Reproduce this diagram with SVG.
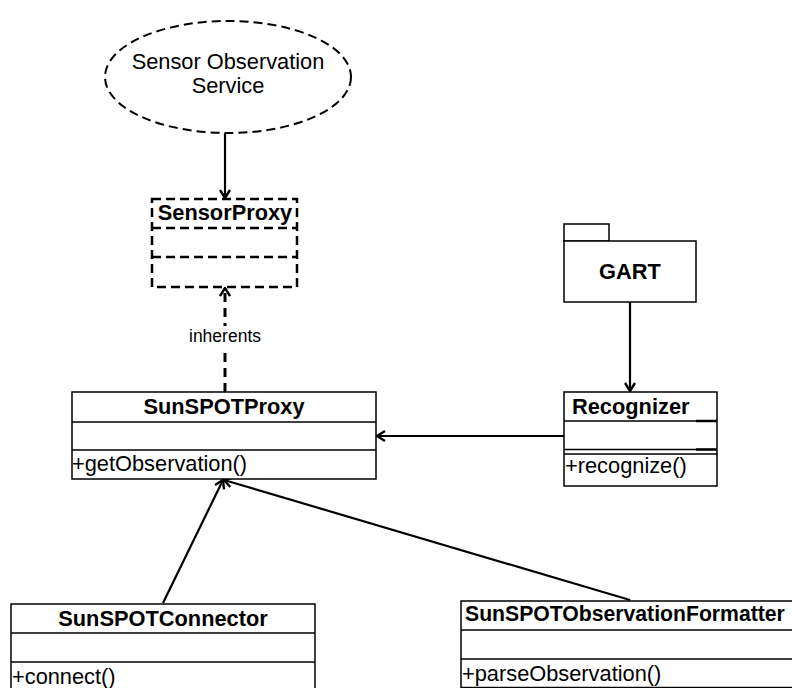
<svg xmlns="http://www.w3.org/2000/svg" width="792" height="688" viewBox="0 0 792 688">
<style>
.box{fill:#fff;stroke:#000;stroke-width:1.5}
.dbox{fill:#fff;stroke:#000;stroke-width:2.5;stroke-dasharray:9 5}
.ln{stroke:#000;stroke-width:1.5}
.dln{stroke:#000;stroke-width:2.5;stroke-dasharray:9 5}
.t{font-family:"Liberation Sans",Arial,sans-serif;font-size:21.8px;fill:#000}
.b{font-weight:bold}
.s{font-size:17.5px}
.c{stroke:#000;stroke-width:2.2;fill:none}
</style>
<defs>
<marker id="ah" viewBox="0 0 10 12" refX="9" refY="6" markerWidth="10" markerHeight="12" markerUnits="userSpaceOnUse" orient="auto">
<path d="M1,1 L9,6 L1,11" fill="none" stroke="#000" stroke-width="2.4"/>
</marker>
</defs>
<g id="connectors">
<line class="c" x1="225" y1="133" x2="225" y2="198" marker-end="url(#ah)"/>
<line class="c" x1="225" y1="392" x2="225" y2="288" style="stroke-width:3;stroke-dasharray:9 6" marker-end="url(#ah)"/>
<rect x="186" y="326" width="78" height="22" fill="#fff"/>
<text class="t s" x="225" y="342" text-anchor="middle">inherents</text>
<line class="c" x1="630" y1="302" x2="630" y2="391" marker-end="url(#ah)"/>
<line class="c" x1="564" y1="436" x2="377" y2="436" marker-end="url(#ah)"/>
<line class="c" x1="163" y1="603" x2="223" y2="480" marker-end="url(#ah)"/>
<line class="c" x1="630" y1="600" x2="224" y2="480" marker-end="url(#ah)"/>
</g>
<g id="sos">
<ellipse cx="228" cy="77" rx="123" ry="56" class="dbox" style="stroke-width:2"/>
<text class="t" x="228" y="69" text-anchor="middle">Sensor Observation</text>
<text class="t" x="228" y="93" text-anchor="middle">Service</text>
</g>
<g id="sensorproxy">
<rect class="dbox" x="152" y="199" width="145" height="88"/>
<line class="dln" x1="152" y1="228" x2="297" y2="228"/>
<line class="dln" x1="152" y1="257" x2="297" y2="257"/>
<text class="t b" x="225" y="220" text-anchor="middle">SensorProxy</text>
</g>
<g id="gart">
<rect class="box" x="564" y="224" width="45" height="17"/>
<rect class="box" x="564" y="241" width="132" height="61"/>
<text class="t b" x="630" y="279" text-anchor="middle">GART</text>
</g>
<g id="sunspotproxy">
<rect class="box" x="72" y="392" width="304" height="87"/>
<line class="ln" x1="72" y1="422" x2="376" y2="422"/>
<line class="ln" x1="72" y1="450" x2="376" y2="450"/>
<text class="t b" x="224" y="414" text-anchor="middle">SunSPOTProxy</text>
<text class="t" x="72" y="471">+getObservation()</text>
</g>
<g id="recognizer">
<rect class="box" x="564" y="392" width="153" height="94"/>
<line class="ln" x1="564" y1="421" x2="717" y2="421"/>
<line class="ln" x1="564" y1="449.5" x2="717" y2="449.5"/>
<line class="ln" x1="564" y1="454" x2="717" y2="454"/>
<line x1="696" y1="421" x2="717" y2="421" stroke="#000" stroke-width="2.5"/>
<line x1="696" y1="449.5" x2="717" y2="449.5" stroke="#000" stroke-width="2.5"/>
<text class="t b" x="572" y="414">Recognizer</text>
<text class="t" x="565" y="473">+recognize()</text>
</g>
<g id="connector">
<rect class="box" x="11" y="604" width="304" height="100"/>
<line class="ln" x1="11" y1="633" x2="315" y2="633"/>
<line class="ln" x1="11" y1="662" x2="315" y2="662"/>
<text class="t b" x="163" y="626" text-anchor="middle">SunSPOTConnector</text>
<text class="t" x="12" y="684">+connect()</text>
</g>
<g id="formatter">
<rect class="box" x="461" y="601" width="350" height="86.5"/>
<line class="ln" x1="461" y1="630" x2="811" y2="630"/>
<line class="ln" x1="461" y1="659" x2="811" y2="659"/>
<text class="t b" x="465" y="621" style="font-size:21.2px">SunSPOTObservationFormatter</text>
<text class="t" x="462" y="681">+parseObservation()</text>
</g>
</svg>
